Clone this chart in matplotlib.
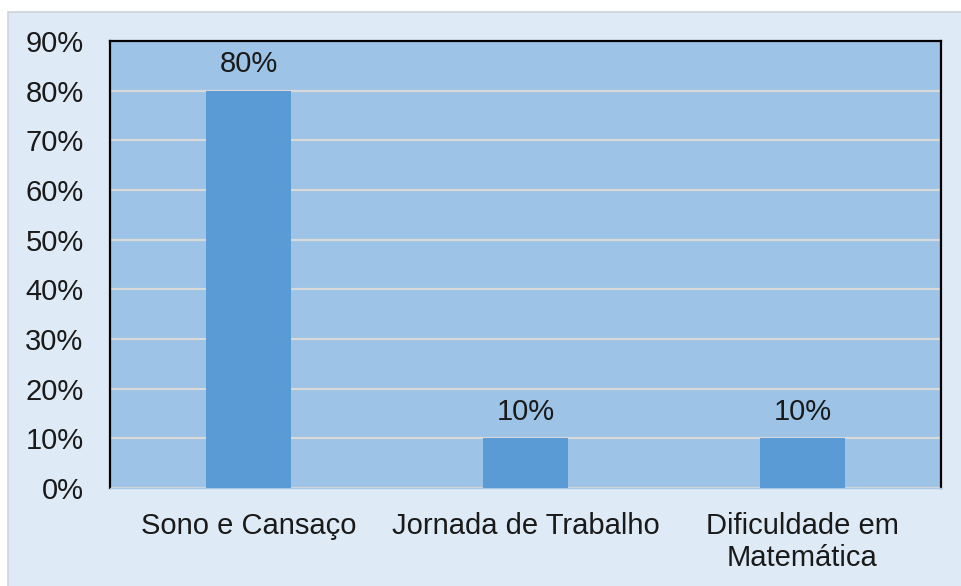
import matplotlib
matplotlib.use("Agg")
import matplotlib.pyplot as plt
from matplotlib.patches import Rectangle
from matplotlib.ticker import FuncFormatter, MultipleLocator

categories = ["Sono e Cansaço", "Jornada de Trabalho", "Dificuldade em\nMatemática"]
values = [0.80, 0.10, 0.10]

plt.rcParams['font.family'] = ['Liberation Sans', 'DejaVu Sans']

fig = plt.figure(figsize=(9.62, 5.86), dpi=100)
fig.patch.set_facecolor('white')
bg = fig.add_axes([0, 0, 1, 1], zorder=-10)
bg.set_axis_off()
bg.set_xlim(0, 1)
bg.set_ylim(0, 1)
bg.add_patch(Rectangle((8/962, -0.01), 1, 1 - 12/586 + 0.01,
                       facecolor='#deeaf6', edgecolor='#d0d4d8', linewidth=1.2))

ax = fig.add_axes([110/962, 1 - 488/586, (941 - 110)/962, (488 - 41)/586])
ax.set_facecolor('#9dc3e6')
x = range(len(categories))
ax.bar(x, values, width=0.31, color='#5b9bd5', zorder=3)
ax.set_xlim(-0.5, len(categories) - 0.5)
ax.set_ylim(0, 0.9)
ax.yaxis.set_major_locator(MultipleLocator(0.1))
ax.yaxis.set_major_formatter(FuncFormatter(lambda v, p: f"{round(v*100):d}%"))
ax.grid(axis='y', color='#d9d9d9', linewidth=1.6, zorder=1)
ax.set_axisbelow(True)
ax.set_xticks(list(x))
ax.set_xticklabels(categories, fontsize=21, color='#1a1a1a', linespacing=1.2)
ax.tick_params(axis='both', length=0, labelsize=21, colors='#1a1a1a')
ax.tick_params(axis='x', pad=17)
ax.tick_params(axis='y', pad=19)
for s in ['left', 'top', 'right']:
    ax.spines[s].set_color('black')
    ax.spines[s].set_linewidth(1.6)
ax.spines['bottom'].set_color('#a8c8e8')
ax.spines['bottom'].set_linewidth(1.0)

for xi, v in zip(x, values):
    ax.annotate(f"{round(v*100):d}%", (xi, v), xytext=(0, 9), textcoords='offset points',
                ha='center', va='bottom', fontsize=21, color='#1a1a1a')

fig.savefig('out.png', dpi=100, facecolor=fig.get_facecolor())
